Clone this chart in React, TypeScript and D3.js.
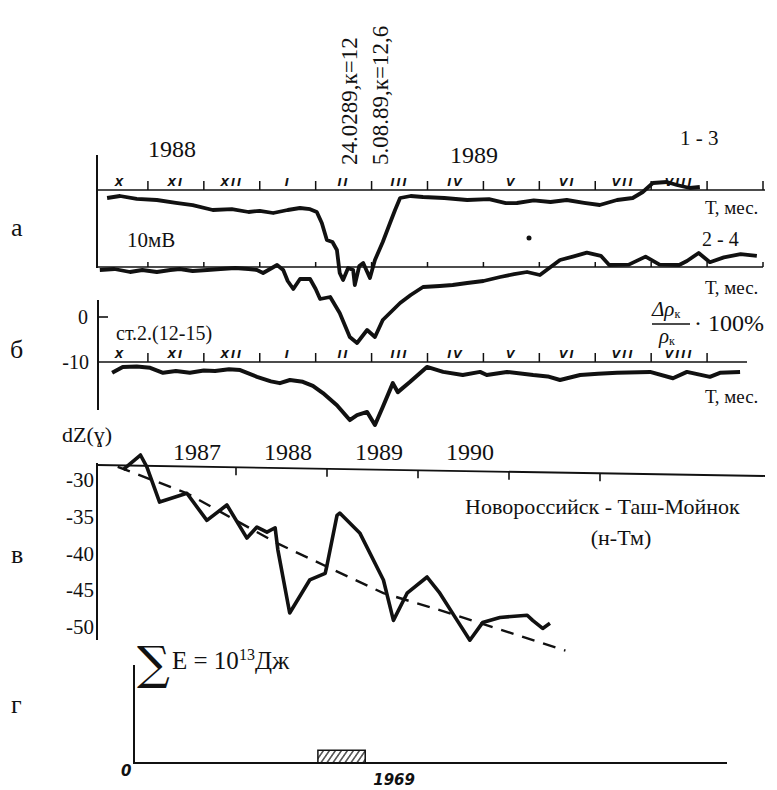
import React from 'react';
import * as d3 from 'd3';

// months counted from 1 Oct 1988
const monthLabels = ['X', 'XI', 'XII', 'I', 'II', 'III', 'IV', 'V', 'VI', 'VII', 'VIII'];
const monthTicks = [1, 2, 3, 4, 5, 6, 7, 8, 9, 10, 11, 12];

// а: 1-3 (mV from baseline)
const s13: [number, number][] = [
  [0.27, -2.0], [0.5, -1.5], [0.8, -2.2], [1.16, -2.5], [1.5, -3.2], [1.8, -3.8], [2.16, -5.0],
  [2.5, -4.8], [2.8, -5.5], [3.0, -5.2], [3.24, -5.75], [3.5, -5.0], [3.72, -4.5], [3.9, -4.8],
  [4.02, -5.5], [4.11, -8.25], [4.2, -12.5], [4.3, -13], [4.38, -15], [4.43, -20.75], [4.49, -22.5],
  [4.58, -19.5], [4.67, -20], [4.7, -23.75], [4.78, -19], [4.85, -18.25], [4.97, -22], [5.06, -17.5],
  [5.2, -13], [5.33, -8.25], [5.42, -5], [5.51, -2], [5.7, -1.5], [5.92, -1.75], [6.3, -2],
  [6.71, -2.5], [7.1, -2.3], [7.4, -3.3], [7.6, -3.25], [7.9, -2.6], [8.2, -3.0], [8.49, -2.5],
  [8.8, -3.2], [9.08, -3.75], [9.39, -2.5], [9.67, -2], [9.85, -0.5], [10.03, 1.75], [10.28, 2],
  [10.46, 1.25], [10.69, 0.5], [10.87, 0.75]
];

// а: 2-4
const s24: [number, number][] = [
  [0.14, -0.75], [0.4, -0.5], [0.68, -1.25], [0.9, -0.75], [1.16, -1.25], [1.4, -0.75], [1.57, -0.5],
  [1.8, -1.0], [2.06, -0.75], [2.3, -0.5], [2.56, -0.25], [2.8, -0.5], [2.95, -0.75], [3.06, -1.5],
  [3.31, 0.5], [3.42, -0.75], [3.5, -3.5], [3.6, -5.5], [3.72, -3.0], [3.9, -3.0], [4.0, -5.5],
  [4.08, -8.0], [4.26, -7.5], [4.43, -11.5], [4.61, -17.5], [4.74, -19], [4.92, -15.75], [5.06, -17.5],
  [5.2, -13.25], [5.51, -9], [5.7, -7], [5.92, -5], [6.22, -4.75], [6.45, -4.5], [6.71, -4],
  [7.0, -3.5], [7.3, -2.5], [7.55, -1.8], [7.78, -1.25], [8.01, -2], [8.37, 1.75], [8.6, 2.6],
  [8.85, 3.6], [9.1, 2.8], [9.25, 0.5], [9.6, 0.6], [9.9, 2.6], [10.15, 0.6], [10.5, 0.5],
  [10.64, 1.5], [10.85, 3.5], [11.05, 1.2], [11.3, 2.4], [11.6, 3.2], [11.89, 2.8]
];

// б: ст.2 (12-15), %
const sB: [number, number][] = [
  [0.36, -12.4], [0.55, -11.1], [0.8, -11.0], [1.04, -11.3], [1.27, -12.4], [1.5, -12.0],
  [1.75, -12.4], [2.0, -11.9], [2.2, -12.0], [2.45, -11.6], [2.65, -11.8], [2.95, -13.3],
  [3.2, -14.3], [3.36, -14.7], [3.54, -14.0], [3.77, -14.4], [3.95, -15.3], [4.13, -16.9],
  [4.38, -19.6], [4.61, -22.9], [4.74, -21.8], [4.92, -21.1], [5.06, -24.0], [5.2, -20.0],
  [5.38, -14.7], [5.47, -16.7], [5.69, -14.4], [5.99, -11.1], [6.28, -12.2], [6.63, -12.9],
  [6.94, -12.2], [7.06, -12.9], [7.42, -12.2], [7.89, -12.9], [8.15, -13.2], [8.37, -14.0],
  [8.73, -12.9], [9.05, -12.6], [9.39, -12.4], [9.98, -12.2], [10.39, -13.6], [10.64, -12.2],
  [11.05, -13.3], [11.23, -12.4], [11.59, -12.2]
];

// в: dZ (γ), Новороссийск - Таш-Мойнок
const dz: [number, number][] = [
  [1986.76, -28.6], [1986.95, -26.6], [1987.02, -28.2], [1987.16, -33.0], [1987.46, -31.8],
  [1987.68, -35.5], [1987.9, -33.4], [1988.12, -37.9], [1988.23, -36.4], [1988.34, -37.1],
  [1988.43, -36.5], [1988.46, -39.5], [1988.59, -48.1], [1988.81, -43.6], [1988.98, -42.7],
  [1989.0, -41.6], [1989.11, -34.8], [1989.14, -34.5], [1989.36, -37.2], [1989.62, -43.6],
  [1989.73, -49.1], [1989.88, -45.4], [1990.1, -43.2], [1990.24, -45.4], [1990.43, -49.1],
  [1990.57, -51.8], [1990.71, -49.4], [1990.9, -48.7], [1991.2, -48.4], [1991.26, -49.1],
  [1991.37, -50.2], [1991.45, -49.5]
];
const dzTrend: [number, number][] = [
  [1986.7, -28.2], [1987.46, -31.8], [1988.45, -38.6], [1989.62, -45.4], [1990.24, -47.7], [1991.62, -53.2]
];
const dzTicks = [-30, -35, -40, -45, -50];
const dzYears = [1987, 1988, 1989, 1990];
const dzYearTicks = [1988, 1989, 1990, 1991, 1992];

// г: ΣE, 10^13 Дж
const energy = [{ from: 1988.9, to: 1989.42, e: 0.13 }];

const xM = d3.scaleLinear().domain([0, 12]).range([92, 763]);
const yA1 = d3.scaleLinear().domain([0, -25]).range([190, 290]);
const yA2 = d3.scaleLinear().domain([0, -25]).range([267, 367]);
const yB = d3.scaleLinear().domain([0, -10]).range([317, 362]);
const xY = d3.scaleLinear().domain([1987, 1992]).range([145, 600]);
const yZ = d3.scaleLinear().domain([-30, -50]).range([480, 627]);
const yE = d3.scaleLinear().domain([0, 1]).range([763, 665]);

const serif: React.CSSProperties = { fontFamily: "'Liberation Serif', 'DejaVu Serif', serif" };
const hand: React.CSSProperties = { fontFamily: "'DejaVu Sans', sans-serif", fontStyle: 'italic', fontWeight: 700 };

function lineOf(xs: d3.ScaleLinear<number, number>, ys: d3.ScaleLinear<number, number>) {
  return d3.line<[number, number]>().x(d => xs(d[0])).y(d => ys(d[1]));
}

export default function App() {
  const ink = '#111';
  const monthRow = (y: number, key: string) =>
    monthLabels.map((m, i) => (
      <text key={key + m} x={xM(i + 0.5)} y={y} textAnchor="middle"
        style={{ ...hand, fontSize: 11, letterSpacing: 2 }} fill={ink}>{m}</text>
    ));
  const tickRow = (y: number, len: number, key: string, ticks: number[]) =>
    ticks.map(t => (
      <line key={key + t} x1={xM(t)} x2={xM(t)} y1={y} y2={y - len} stroke={ink} strokeWidth={1.5} />
    ));

  return (
    <svg width={777} height={790} style={{ position: 'absolute', left: 0, top: 0, background: '#fff' }}>
      <defs>
        <pattern id="hatch" width="6" height="14" patternUnits="userSpaceOnUse" patternTransform="skewX(-35)">
          <line x1="3" y1="0" x2="3" y2="14" stroke={ink} strokeWidth={1.4} />
        </pattern>
      </defs>

      {/* panel labels */}
      <g style={{ ...serif, fontSize: 26 }} fill={ink}>
        <text x={11} y={236}>а</text>
        <text x={10} y={358}>б</text>
        <text x={11} y={563}>в</text>
        <text x={11} y={713}>г</text>
      </g>

      {/* ===== а ===== */}
      <line x1={97} x2={97} y1={155} y2={268} stroke={ink} strokeWidth={2} />
      <line x1={97} x2={765} y1={yA1(0)} y2={yA1(0)} stroke={ink} strokeWidth={1.6} />
      {tickRow(yA1(0), 9, 'ta', monthTicks)}
      {monthRow(186, 'ma')}
      <line x1={97} x2={763} y1={yA2(0)} y2={yA2(0)} stroke={ink} strokeWidth={1.6} />
      {tickRow(yA2(0), 5, 'tb', monthTicks)}
      <path d={lineOf(xM, yA1)(s13) || ''} fill="none" stroke={ink} strokeWidth={3.8} strokeLinejoin="round" />
      <path d={lineOf(xM, yA2)(s24) || ''} fill="none" stroke={ink} strokeWidth={3.8} strokeLinejoin="round" />
      <circle cx={529} cy={238} r={2.5} fill={ink} />

      <g style={serif} fill={ink}>
        <text x={148} y={157} fontSize={24}>1988</text>
        <text x={450} y={163} fontSize={24}>1989</text>
        <text x={680} y={145} fontSize={21}>1 - 3</text>
        <text x={357} y={165} fontSize={23} transform="rotate(-90 357 165)">24.0289,к=12</text>
        <text x={388} y={165} fontSize={23} transform="rotate(-90 388 165)">5.08.89,к=12,6</text>
        <text x={127} y={247} fontSize={21}>10мВ</text>
        <text x={702} y={246} fontSize={20}>2 - 4</text>
        <text x={705} y={214} fontSize={19}>Т, мес.</text>
        <text x={705} y={294} fontSize={19}>Т, мес.</text>
      </g>

      {/* ===== б ===== */}
      <line x1={98} x2={98} y1={300} y2={410} stroke={ink} strokeWidth={2} />
      <line x1={98} x2={108} y1={yB(0)} y2={yB(0)} stroke={ink} strokeWidth={1.6} />
      <line x1={98} x2={747} y1={yB(-10)} y2={yB(-10)} stroke={ink} strokeWidth={1.6} />
      {tickRow(yB(-10), 9, 'tc', monthTicks.slice(0, 11))}
      {monthRow(358, 'mb')}
      <path d={lineOf(xM, yB)(sB) || ''} fill="none" stroke={ink} strokeWidth={4} strokeLinejoin="round" />
      <g style={serif} fill={ink}>
        <text x={88} y={yB(0) + 7} fontSize={20} textAnchor="end">0</text>
        <text x={89} y={yB(-10) + 7} fontSize={20} textAnchor="end">-10</text>
        <text x={116} y={340} fontSize={20}>ст.2.(12-15)</text>
        <text x={705} y={403} fontSize={19}>Т, мес.</text>
        <text x={652} y={316} fontSize={21} fontStyle="italic">Δρ<tspan fontSize={12} fontStyle="normal" dy={2}>к</tspan></text>
        <line x1={652} x2={690} y1={324} y2={324} stroke={ink} strokeWidth={1.4} />
        <text x={659} y={343} fontSize={21} fontStyle="italic">ρ<tspan fontSize={12} fontStyle="normal" dy={2}>к</tspan></text>
        <text x={694} y={331} fontSize={24}>· 100%</text>
      </g>

      {/* ===== в ===== */}
      <line x1={97} x2={97} y1={463} y2={640} stroke={ink} strokeWidth={2} />
      <line x1={97} x2={765} y1={465} y2={476} stroke={ink} strokeWidth={1.8} />
      {dzYearTicks.map(t => {
        const x = xY(t);
        const y = 465 + (x - 97) * 11 / 668;
        return <line key={'yt' + t} x1={x} x2={x} y1={y} y2={y + 8} stroke={ink} strokeWidth={1.6} />;
      })}
      <path d={lineOf(xY, yZ)(dzTrend) || ''} fill="none" stroke={ink} strokeWidth={2.4}
        strokeDasharray="13 9" />
      <path d={lineOf(xY, yZ)(dz) || ''} fill="none" stroke={ink} strokeWidth={3.6} strokeLinejoin="round" />
      <g style={serif} fill={ink}>
        <text x={62} y={442} fontSize={22}>dZ(ɣ)</text>
        {dzTicks.map(t => (
          <text key={'dz' + t} x={94} y={yZ(t) + 7} fontSize={21} textAnchor="end">{t}</text>
        ))}
        {dzYears.map(y => (
          <text key={'yr' + y} x={xY(y) + 28} y={460} fontSize={24}>{y}</text>
        ))}
        <text x={465} y={514} fontSize={22}>Новороссийск - Таш-Мойнок</text>
        <text x={621} y={545} fontSize={22} textAnchor="middle">(н-Тм)</text>
      </g>

      {/* ===== г ===== */}
      <line x1={134} x2={134} y1={665} y2={764} stroke={ink} strokeWidth={2} />
      <line x1={134} x2={727} y1={yE(0)} y2={yE(0)} stroke={ink} strokeWidth={2} />
      {energy.map((b, i) => (
        <rect key={'e' + i} x={xY(b.from)} y={yE(b.e)} width={xY(b.to) - xY(b.from)}
          height={yE(0) - yE(b.e)} fill="url(#hatch)" stroke={ink} strokeWidth={1.5} />
      ))}
      <g fill={ink}>
        <text x={137} y={679} style={{ fontFamily: "'DejaVu Serif', serif", fontSize: 46 }}>∑</text>
        <text x={172} y={669} style={{ ...serif, fontSize: 25 }}>E =  10<tspan fontSize={16} dy={-9}>13</tspan><tspan dy={9}>Дж</tspan></text>
        <text x={121} y={776} style={{ ...hand, fontSize: 15 }}>0</text>
        <text x={xY(energy[0].to) + 8} y={785} style={{ ...hand, fontSize: 15 }}>1969</text>
      </g>
    </svg>
  );
}
